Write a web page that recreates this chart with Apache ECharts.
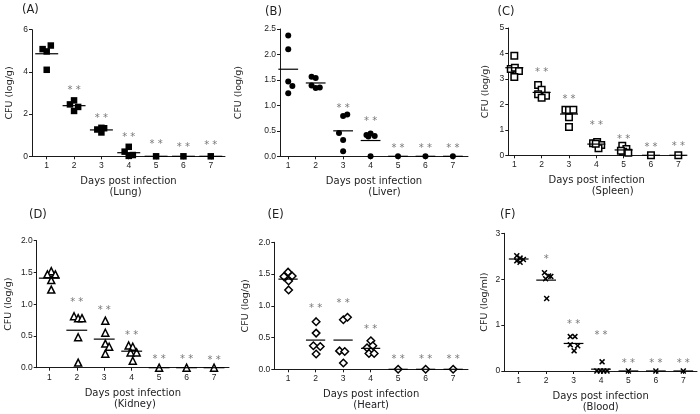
<!DOCTYPE html>
<html><head><meta charset="utf-8">
<script src="https://cdn.jsdelivr.net/npm/echarts@6/dist/echarts.min.js"></script>
<style>html,body{margin:0;padding:0;background:#fff}#c{width:700px;height:414px}</style>
</head><body><div id="c"></div>
<script>
const days = [1, 2, 3, 4, 5, 6, 7];
const dayLabels = ['1', '2', '3', '4', '5', '6', '7'];

// Panel A - Lung
const ptsA = [[0.85,5.08],[1.0,4.97],[1.15,5.25],[1.0,4.1],
  [1.85,2.46],[2.0,2.65],[2.15,2.34],[2.0,2.15],
  [2.85,1.27],[3.0,1.35],[3.1,1.33],[3.0,1.13],
  [3.85,0.22],[4.0,0.45],[4.0,0.02],[4.15,0.06],
  [5,0],[6,0],[7,0]];
const meansA = [4.86, 2.4, 1.25, 0.17, 0, 0, 0];
const starsA = [[2,3.23,'* *'],[3,1.91,'* *'],[4,1.02,'* *'],[5,0.67,'* *'],[6,0.55,'* *'],[7,0.63,'* *']];

// Panel B - Liver
const ptsB = [[1.0,2.37],[1.0,2.1],[1.0,1.47],[1.15,1.38],[1.0,1.24],
  [1.85,1.56],[2.0,1.54],[1.85,1.39],[2.0,1.34],[2.15,1.35],
  [3.0,0.79],[3.15,0.82],[2.85,0.46],[3.0,0.32],[3.0,0.1],
  [3.85,0.42],[4.0,0.45],[4.15,0.4],[3.92,0.39],[4.0,0],
  [5,0],[6,0],[7,0]];
const meansB = [1.71, 1.44, 0.5, 0.31, 0, 0, 0];
const starsB = [[3,0.99,'* *'],[4,0.74,'* *'],[5,0.21,'* *'],[6,0.21,'* *'],[7,0.21,'* *']];

// Panel C - Spleen
const ptsC = [[1.0,3.91],[0.87,3.39],[1.02,3.44],[1.17,3.31],[1.0,3.08],
  [1.87,2.76],[2.0,2.57],[1.87,2.4],[2.16,2.34],[2.0,2.26],
  [2.87,1.79],[3.0,1.78],[3.16,1.79],[3.0,1.49],[3.0,1.11],
  [3.88,0.47],[4.03,0.52],[4.18,0.4],[4.08,0.28],[3.98,0.45],
  [4.95,0.38],[5.1,0.25],[4.98,0.14],[5.17,0.1],[4.9,0.18],
  [6,0],[7,0]];
const meansC = [3.44, 2.47, 1.62, 0.44, 0.21, 0, 0];
const starsC = [[2,3.35,'* *'],[3,2.28,'* *'],[4,1.28,'* *'],[5,0.73,'* *'],[6,0.39,'* *'],[7,0.43,'* *']];

// Panel D - Kidney
const ptsD = [[1.07,1.52],[0.93,1.47],[1.22,1.47],[1.07,1.38],[1.07,1.23],
  [1.9,0.81],[2.05,0.78],[2.19,0.78],[2.05,0.48],[2.05,0.08],
  [3.04,0.74],[3.04,0.55],[3.04,0.38],[3.18,0.33],[3.04,0.22],
  [3.89,0.35],[4.04,0.33],[3.96,0.24],[4.18,0.24],[4.04,0.11],
  [5,0],[6,0],[7,0]];
const meansD = [1.41, 0.59, 0.45, 0.26, 0, 0, 0];
const starsD = [[2,1.06,'* *'],[3,0.94,'* *'],[4,0.55,'* *'],[5,0.17,'* *'],[6,0.17,'* *'],[7,0.16,'* *']];

// Panel E - Heart
const ptsE = [[1.0,1.53],[0.85,1.46],[1.15,1.47],[1.02,1.39],[1.02,1.25],
  [2.02,0.75],[2.02,0.57],[2.17,0.36],[1.92,0.37],[2.02,0.24],
  [3.01,0.78],[3.16,0.82],[2.87,0.29],[3.06,0.28],[3.01,0.1],
  [4.01,0.45],[3.87,0.34],[4.08,0.37],[3.94,0.25],[4.13,0.25],
  [5,0],[6,0],[7,0]];
const meansE = [1.42, 0.46, 0.46, 0.33, 0, 0, 0];
const starsE = [[2,1.0,'* *'],[3,1.07,'* *'],[4,0.67,'* *'],[5,0.2,'* *'],[6,0.2,'* *'],[7,0.2,'* *']];

// Panel F - Blood
const ptsF = [[0.93,2.51],[1.05,2.46],[1.17,2.43],[0.93,2.4],[1.05,2.37],
  [1.94,2.14],[2.09,2.07],[2.17,2.06],[1.98,2.01],[2.02,1.58],
  [2.88,0.75],[3.05,0.75],[2.88,0.57],[3.15,0.55],[3.02,0.44],
  [4.04,0.2],[3.85,0],[3.98,0],[4.1,0],[4.22,0],
  [5,0],[6,0],[7,0]];
const meansF = [2.44, 1.98, 0.6, 0.04, 0, 0, 0];
const starsF = [[2,2.48,'*'],[3,1.06,'* *'],[4,0.84,'* *'],[5,0.23,'* *'],[6,0.23,'* *'],[7,0.23,'* *']];

const panels = [
  {tag:'(A)', organ:'(Lung)', unit:'CFU (log/g)', pts:ptsA, means:meansA, stars:starsA, yMax:6, yInt:2, dec:0,
   grid:{left:32, top:29.7, width:193, height:126.6}, xMin:0.462, xMax:7.52, hw:0.42, nameGap:17, orgShift:-6,
   tagPos:[22,4], sym:'rect', symSize:6.5, fill:'#000'},
  {tag:'(B)', organ:'(Liver)', unit:'CFU (log/g)', pts:ptsB, means:meansB, stars:starsB, yMax:2.5, yInt:0.5, dec:1,
   grid:{left:280, top:29, width:188, height:127.3}, xMin:0.70, xMax:7.55, hw:0.36, nameGap:36, orgShift:21,
   tagPos:[265,6], sym:'circle', symSize:6, fill:'#000'},
  {tag:'(C)', organ:'(Spleen)', unit:'CFU (log/g)', pts:ptsC, means:meansC, stars:starsC, yMax:5, yInt:1, dec:0,
   grid:{left:508.3, top:28, width:176.7, height:127.3}, xMin:0.78, xMax:7.245, hw:0.33, nameGap:18, orgShift:32,
   tagPos:[497.5,6], sym:'rect', symSize:6.5, fill:'#fff'},
  {tag:'(D)', organ:'(Kidney)', unit:'CFU (log/g)', pts:ptsD, means:meansD, stars:starsD, yMax:2.0, yInt:0.5, dec:1,
   grid:{left:36.7, top:240.7, width:192.3, height:127}, xMin:0.54, xMax:7.545, hw:0.38, nameGap:23, orgShift:4,
   tagPos:[29,209], sym:'triangle', symSize:7, fill:'#fff'},
  {tag:'(E)', organ:'(Heart)', unit:'CFU (log/g)', pts:ptsE, means:meansE, stars:starsE, yMax:2.0, yInt:0.5, dec:1,
   grid:{left:274.3, top:242.3, width:193.7, height:127}, xMin:0.50, xMax:7.54, hw:0.35, nameGap:23.5, orgShift:0,
   tagPos:[267.5,209.5], sym:'path://M5,0 L10,5 L5,10 L0,5 Z', symSize:7.5, fill:'#fff'},
  {tag:'(F)', organ:'(Blood)', unit:'CFU (log/ml)', pts:ptsF, means:meansF, stars:starsF, yMax:3, yInt:1, dec:0,
   grid:{left:504.3, top:233.3, width:192.7, height:137.7}, xMin:0.475, xMax:7.5, hw:0.36, nameGap:15, orgShift:0,
   tagPos:[500,209], sym:'path://M0,1.8 L1.8,0 L5,3.2 L8.2,0 L10,1.8 L6.8,5 L10,8.2 L8.2,10 L5,6.8 L1.8,10 L0,8.2 L3.2,5 Z', symSize:6, fill:'#000'}
];

const axisColor = '#1a1a1a';
const tickFont = {fontFamily:'Liberation Sans, Arial', fontSize:8.5, color:'#222'};
const grids = [], xAxes = [], yAxes = [], series = [], titles = [];

panels.forEach((p, i) => {
  grids.push(Object.assign({}, p.grid));
  xAxes.push({
    type:'value', gridIndex:i, min:p.xMin, max:p.xMax,
    splitLine:{show:false},
    axisLine:{show:true, onZero:false, lineStyle:{color:axisColor, width:1}},
    axisTick:{show:true, length:3, customValues:days, lineStyle:{color:axisColor}},
    axisLabel:Object.assign({customValues:days, margin:5, formatter:v => dayLabels[Math.round(v)-1]}, tickFont),
    name:'{a|Days post infection}\n{b|' + p.organ + '}',
    nameLocation:'middle', nameGap:20,
    nameTextStyle:{
      rich:{
        a:{fontFamily:'DejaVu Sans', fontSize:10, color:'#222', lineHeight:11},
        b:{fontFamily:'DejaVu Sans', fontSize:10, color:'#222', lineHeight:11,
           padding: p.orgShift >= 0 ? [0,0,0,p.orgShift] : [0,-p.orgShift,0,0]}
      }
    }
  });
  yAxes.push({
    type:'value', gridIndex:i, min:0, max:p.yMax, interval:p.yInt,
    splitLine:{show:false},
    axisLine:{show:true, lineStyle:{color:axisColor, width:1}},
    axisTick:{show:true, length:3, lineStyle:{color:axisColor}},
    axisLabel:Object.assign({margin:4, formatter:v => v.toFixed(p.dec)}, tickFont),
    name:p.unit, nameLocation:'middle', nameRotate:90, nameGap:p.nameGap,
    nameTextStyle:{fontFamily:'DejaVu Sans', fontSize:9.5, color:'#222'}
  });
  series.push({
    type:'scatter', xAxisIndex:i, yAxisIndex:i, data:p.pts, clip:false,
    symbol:p.sym, symbolSize:p.symSize, z:3,
    itemStyle:{color:p.fill, borderColor:'#000', borderWidth: p.fill === '#fff' ? 1.5 : 0, opacity:1}
  });
  const hw = p.hw;
  series.push({
    type:'custom', xAxisIndex:i, yAxisIndex:i, z:4, clip:false,
    data: days.map((d, k) => [d, p.means[k]]),
    renderItem:(params, api) => {
      const a = api.coord([api.value(0) - hw, api.value(1)]);
      const b = api.coord([api.value(0) + hw, api.value(1)]);
      return {type:'line', shape:{x1:a[0], y1:a[1], x2:b[0], y2:b[1]}, style:{stroke:'#000', lineWidth:1.2}};
    }
  });
  series.push({
    type:'scatter', xAxisIndex:i, yAxisIndex:i, data:p.stars, clip:false,
    symbolSize:1, itemStyle:{color:'rgba(0,0,0,0)'}, z:5,
    label:{show:true, position:'inside', formatter:q => q.value[2],
      fontFamily:'DejaVu Sans', fontSize:10, color:'#555', offset:[0,2.5]}
  });
  titles.push({text:p.tag, left:p.tagPos[0], top:p.tagPos[1], padding:0,
    textStyle:{fontFamily:'DejaVu Sans', fontSize:11.5, fontWeight:'normal', color:'#222'}});
});

const chart = echarts.init(document.getElementById('c'), null, {renderer:'canvas'});
chart.setOption({
  animation:false, backgroundColor:'#fff',
  title:titles, grid:grids, xAxis:xAxes, yAxis:yAxes, series:series
});
</script>
</body></html>
